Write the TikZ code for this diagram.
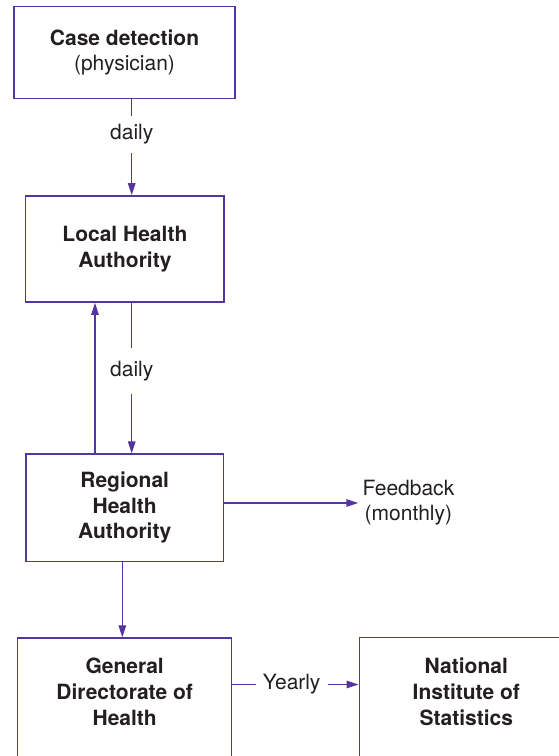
\documentclass[tikz,border=0pt]{standalone}
\usepackage{fontspec}
\setmainfont{TeX Gyre Heros}
\usetikzlibrary{arrows.meta}
\definecolor{frame}{RGB}{84,54,158}
\definecolor{ink}{RGB}{35,31,32}

\begin{document}
\begin{tikzpicture}[x=1pt,y=-1pt,
  box/.style={draw=frame,line width=1.4pt,inner sep=0pt,align=center,text=ink,font=\fontsize{21}{25.5}\selectfont\bfseries},
  boxtext/.style={inner sep=0pt,align=center,text=ink,font=\fontsize{21}{26}\selectfont\bfseries},
  tag/.style={inner sep=0pt,align=center,text=ink,font=\fontsize{21}{25}\selectfont},
  link/.style={draw=frame,line width=1.3pt},
  arr/.style={link,-{Triangle[length=12pt,width=7.5pt]}}]
  \useasboundingbox (0,0) rectangle (559,756);
  \clip (0,0) rectangle (559,756);
  \node[box,minimum width=221pt,minimum height=91.6pt] (case) at (124.5,52.5) {Case detection\\\textmd{(physician)}};
  \node[box,minimum width=198.3pt,minimum height=106.3pt,font=\fontsize{21}{26}\selectfont\bfseries] (local) at (124.9,249) {Local Health\\Authority};
  \node[box,minimum width=197.3pt,minimum height=107.3pt] (regional) at (124.7,507.7) {Regional\\Health\\Authority};
  \node[box,anchor=north,minimum width=214pt,minimum height=160pt] (gdh) at (124.7,637.3) {};
  \node[box,anchor=north,minimum width=214pt,minimum height=160pt] (nis) at (466.3,636.9) {};
  \node[boxtext] (gdhtext) at (124.7,692) {General\\Directorate of\\Health};
  \node[boxtext] (nistext) at (466.3,692) {National\\Institute of\\Statistics};
  \node[tag,inner ysep=8pt] (d1) at (131.7,134.5) {daily};
  \node[tag,inner ysep=12.7pt] (d2) at (131.7,371) {daily};
  \node[tag,inner xsep=6.9pt] (yr) at (291.7,684.5) {Yearly};
  \node[tag,anchor=west,inner xsep=4pt] (fb) at (358.3,503) {Feedback\\(monthly)};
  \coordinate (up) at (95,0);
  \coordinate (dn) at (122.3,0);
  \draw[link] (case.south -| d1) -- (d1);
  \draw[arr] (d1) -- (local.north -| d1);
  \draw[link] (local.south -| d2) -- (d2);
  \draw[arr] (d2) -- (regional.north -| d2);
  \draw[arr] (regional.north -| up) -- (local.south -| up);
  \draw[arr] (regional.east |- fb) -- (fb);
  \draw[arr] (regional.south -| dn) -- (gdh.north -| dn);
  \draw[link] (gdh.east |- yr) -- (yr);
  \draw[arr] (yr) -- (nis.west |- yr);
\end{tikzpicture}
\end{document}
